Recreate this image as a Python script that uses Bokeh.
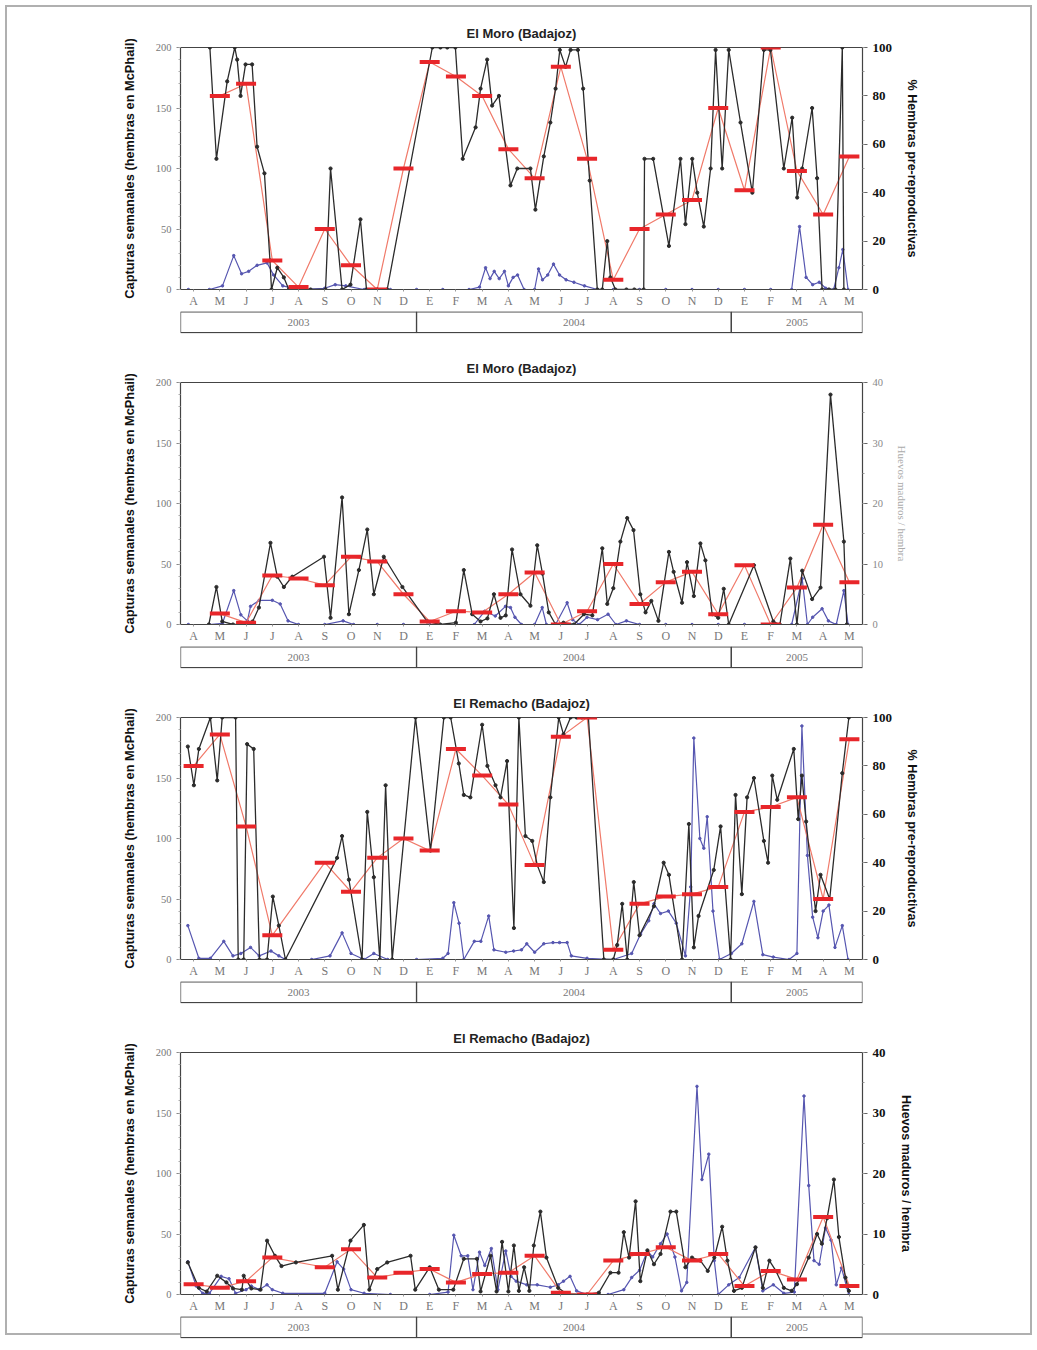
from bokeh.plotting import figure
from bokeh.models import Range1d, LinearAxis, FixedTicker, SingleIntervalTicker
from bokeh.layouts import column
from bokeh.embed import file_html
from bokeh.resources import INLINE
from bokeh.core.properties import value

# ---------------- data ----------------
MONTHS = ["A", "M", "J", "J", "A", "S", "O", "N", "D", "E", "F", "M", "A",
          "M", "J", "J", "A", "S", "O", "N", "D", "E", "F", "M", "A", "M"]
YEARS = ["2003", "2004", "2005"]
YEAR_START = [0, 9, 21]   # month index where each year starts (Apr 2003 = 0)
YEAR_END = [9, 21, 26]

LEFT_LABEL = "Capturas semanales (hembras en McPhail)"

# Panel 1 - El Moro, % hembras pre-reproductivas
p1_black_t = [1.12, 1.37, 1.78, 2.07, 2.16, 2.29, 2.48, 2.73, 2.92, 3.2,
              3.41, 3.47, 3.69, 3.94, 4.13, 4.96, 5.53, 5.72, 6.16, 6.48,
              6.86, 7.09, 7.5, 7.88, 9.6, 9.91, 10.17, 10.48, 10.76, 11.25,
              11.44, 11.69, 11.88, 12.14, 12.58, 12.84, 13.34, 13.53, 13.85, 14.1,
              14.3, 14.46, 14.68, 14.87, 15.15, 15.35, 15.6, 15.89, 16.08, 16.27,
              16.39, 16.58, 17.0, 17.3, 17.66, 17.69, 18.02, 18.62, 19.06, 19.25,
              19.51, 19.7, 19.95, 20.21, 20.4, 20.65, 20.9, 21.35, 21.8, 22.24,
              22.49, 23.0, 23.32, 23.51, 23.7, 24.08, 24.27, 24.46, 24.72, 24.97,
              25.23, 25.29]
p1_black_v = [100, 54, 86, 100, 95, 80, 93, 93, 59, 48,
              12, 0, 9, 5, 0, 0, 0, 50, 0, 2,
              29, 0, 0, 0, 100, 100, 100, 100, 54, 67,
              83, 95, 76, 80, 43, 50, 50, 33, 55, 69,
              83, 99, 92, 99, 99, 83, 45, 0, 0, 20,
              5, 0, 0, 0, 0, 54, 54, 18, 54, 27,
              54, 40, 26, 50, 99, 50, 99, 69, 40, 99,
              99, 50, 71, 38, 50, 75, 46, 0, 0, 0,
              100, 0]
p1_blue_t = [0.3, 1.1, 1.6, 2.03, 2.33, 2.6, 2.92, 3.3, 3.55, 3.9,
             4.5, 5.5, 5.9, 6.3, 7.0, 8.0, 9.0, 10.0, 11.0, 11.4,
             11.63, 11.8, 11.96, 12.15, 12.35, 12.5, 12.68, 12.85, 13.1, 13.5,
             13.65, 13.8, 14.0, 14.22, 14.45, 14.7, 15.0, 15.4, 15.9, 16.5,
             17.5, 18.5, 19.5, 20.5, 21.5, 22.5, 23.3, 23.6, 23.85, 24.1,
             24.35, 24.6, 24.9, 25.1, 25.25, 25.45]
p1_blue_v = [0, 0, 3, 28, 13, 15, 20, 22, 12, 3,
             0, 1, 4, 3, 0, 0, 0, 0, 0, 2,
             18, 9, 15, 9, 15, 3, 10, 12, 0, 0,
             17, 8, 12, 21, 12, 8, 6, 3, 0, 0,
             0, 0, 0, 0, 0, 0, 0, 52, 10, 4,
             6, 1, 0, 18, 33, 0]
p1_red_m = list(range(1, 26))
p1_red_v = [80, 85, 12, 1, 25, 10, 0, 50, 94, 88, 80, 58, 46, 92, 54, 4, 25,
            31, 37, 75, 41, 100, 49, 31, 55]

# Panel 2 - El Moro, huevos maduros / hembra
p2_black_t = [1.08, 1.37, 1.59, 2.0, 2.5, 2.75, 2.99, 3.43, 3.69, 3.94,
              4.26, 5.47, 5.72, 6.16, 6.42, 6.8, 7.12, 7.37, 7.75, 8.46,
              9.4, 9.9, 10.5, 10.8, 11.12, 11.44, 11.7, 11.95, 12.2, 12.4,
              12.64, 12.96, 13.34, 13.6, 13.8, 14.04, 14.3, 14.6, 15.0, 15.38,
              15.7, 16.08, 16.27, 16.5, 16.77, 17.03, 17.27, 17.53, 17.73, 17.95,
              18.22, 18.62, 18.8, 19.12, 19.31, 19.57, 19.82, 20.01, 20.27, 20.5,
              20.71, 20.9, 21.86, 22.6, 22.85, 23.25, 23.5, 23.7, 24.08, 24.4,
              24.78, 25.29, 25.4]
p2_black_v = [0, 6.2, 0.5, 0, 0, 0.5, 2.8, 13.5, 7.9, 6.2,
              7.9, 11.2, 1.1, 21, 1.7, 9, 15.7, 5, 11.2, 6.2,
              0.5, 0, 0.3, 9, 1.7, 0.5, 1, 5, 1.1, 1.5,
              12.4, 5, 3.1, 13.1, 8.4, 2, 0, 0.3, 0, 1.7,
              1.5, 12.6, 3.4, 6, 13.7, 17.6, 15.6, 5, 2, 3.9,
              0.6, 12, 8.7, 3.6, 10.3, 4.7, 13.4, 10.6, 1.7, 1.1,
              5.9, 0, 9.8, 0.5, 0, 10.9, 0, 8.9, 4.2, 6.1,
              38, 13.7, 0]
p2_blue_t = [0.3, 1.1, 1.6, 2.03, 2.3, 2.55, 2.67, 3.0, 3.5, 3.8,
             4.1, 4.5, 5.5, 6.2, 6.6, 7.5, 8.5, 9.5, 10.5, 11.2,
             11.6, 12.0, 12.39, 12.58, 12.75, 13.0, 13.5, 13.79, 13.95, 14.3,
             14.74, 14.95, 15.2, 15.5, 15.9, 16.3, 16.6, 17.0, 17.5, 18.5,
             19.5, 20.5, 21.5, 22.5, 23.3, 23.7, 23.9, 24.1, 24.46, 24.7,
             25.0, 25.29, 25.45]
p2_blue_v = [0, 0, 1, 28, 8, 3, 15, 20, 20, 17,
             3, 0, 0, 3, 0, 0, 0, 0, 0, 0,
             11, 7, 15, 14, 6, 0, 0, 14, 0, 0,
             18, 4, 0, 6, 4, 8.5, 0, 3, 0, 0,
             0, 0, 0, 0, 0, 38, 0, 6, 13, 3,
             0, 28, 0]
p2_red_m = list(range(1, 26))
p2_red_v = [1.8, 0.3, 8.1, 7.6, 6.5, 11.2, 10.4, 5, 0.5, 2.2, 2, 5, 8.6, 0,
            2.2, 10, 3.4, 7, 8.7, 1.7, 9.8, 0, 6.1, 16.5, 7]

# Panel 3 - El Remacho, % hembras pre-reproductivas
p3_black_t = [0.28, 0.51, 0.7, 1.14, 1.4, 1.59, 2.1, 2.2, 2.41, 2.54,
              2.79, 3.01, 3.3, 3.52, 3.75, 4.0, 5.97, 6.16, 6.42, 6.92,
              7.12, 7.37, 7.6, 7.82, 8.07, 8.96, 9.53, 10.04, 10.3, 10.61,
              10.8, 11.05, 11.5, 11.7, 12.01, 12.2, 12.45, 12.71, 12.9, 13.15,
              13.41, 13.6, 13.85, 14.1, 14.42, 14.6, 14.87, 15.1, 15.3, 15.55,
              16.14, 16.5, 16.65, 16.84, 17.03, 17.28, 17.5, 18.05, 18.42, 18.62,
              19.12, 19.38, 19.57, 19.75, 20.33, 20.59, 20.97, 21.16, 21.4, 21.6,
              21.86, 22.24, 22.4, 22.56, 22.75, 23.38, 23.55, 23.69, 23.85, 24.21,
              24.4, 24.75, 25.23, 25.48]
p3_black_v = [88, 72, 87, 100, 74, 100, 100, 0, 0, 89,
              87, 0, 0, 26, 14, 0, 42, 51, 33, 0,
              61, 34, 0, 72, 0, 100, 45, 100, 100, 81,
              68, 67, 97, 80, 72, 67, 82, 13, 100, 51,
              49, 39, 32, 67, 100, 93, 100, 100, 100, 100,
              0, 0, 6, 23, 0, 32, 10, 22, 40, 35,
              0, 56, 5, 18, 37, 55, 0, 68, 27, 67,
              75, 49, 40, 76, 66, 87, 58, 76, 57, 20,
              35, 25, 77, 100]
p3_blue_t = [0.28, 0.7, 1.14, 1.65, 2.0, 2.3, 2.67, 3.0, 3.45, 3.75,
             4.0, 5.0, 5.7, 6.16, 6.5, 7.0, 7.37, 7.9, 9.0, 10.0,
             10.2, 10.42, 10.62, 10.8, 11.2, 11.45, 11.75, 11.95, 12.4, 12.7,
             13.0, 13.2, 13.5, 13.85, 14.2, 14.45, 14.74, 14.9, 15.5, 16.5,
             17.2, 17.54, 17.85, 18.05, 18.3, 18.6, 18.9, 19.25, 19.45, 19.57,
             19.8, 19.95, 20.08, 20.3, 20.55, 21.0, 21.4, 21.86, 22.2, 22.6,
             23.2, 23.5, 23.69, 23.9, 24.1, 24.3, 24.5, 24.72, 24.95, 25.23,
             25.45]
p3_blue_v = [28, 1, 1, 15, 3, 5, 10, 3, 7, 3,
             0, 0, 3, 22, 5, 0, 5, 0, 0, 1,
             5, 47, 30, 0, 15, 15, 36, 8, 6, 7,
             8, 13, 6, 13, 14, 14, 14, 3, 1, 0,
             5, 21, 32, 46, 38, 40, 30, 3, 60, 183,
             100, 92, 118, 40, 0, 5, 13, 48, 4, 2,
             0, 5, 193, 86, 35, 18, 40, 45, 10, 28,
             0]
p3_red_m = [0, 1, 2, 3, 5, 6, 7, 8, 9, 10, 11, 12, 13, 14, 15, 16, 17, 18,
            19, 20, 21, 22, 23, 24, 25]
p3_red_v = [80, 93, 55, 10, 40, 28, 42, 50, 45, 87, 76, 64, 39, 92, 100, 4,
            23, 26, 27, 30, 61, 63, 67, 25, 91]

# Panel 4 - El Remacho, huevos maduros / hembra
p4_black_t = [0.28, 0.7, 1.0, 1.4, 1.75, 2.0, 2.34, 2.41, 2.7, 3.05,
              3.3, 3.6, 3.85, 4.4, 5.78, 6.0, 6.48, 6.99, 7.2, 7.5,
              7.88, 8.77, 8.95, 9.5, 9.85, 10.4, 10.8, 11.3, 11.44, 11.82,
              12.05, 12.26, 12.5, 12.71, 12.9, 13.1, 13.3, 13.47, 13.72, 13.95,
              14.4, 14.75, 15.5, 15.95, 16.39, 16.7, 16.9, 17.1, 17.35, 17.53,
              17.8, 18.05, 18.3, 18.68, 18.9, 19.25, 19.5, 19.82, 20.1, 20.35,
              20.65, 20.85, 21.1, 21.4, 21.92, 22.2, 22.45, 22.7, 23.0, 23.3,
              23.5, 23.95, 24.27, 24.45, 24.65, 24.91, 25.1, 25.35, 25.48]
p4_black_v = [5.3, 1.1, 0.5, 3.1, 2, 1, 0.8, 3.1, 1, 0.8,
              8.9, 6.4, 4.7, 5.3, 6.4, 0.8, 8.9, 11.5, 0.8, 4.2,
              5.3, 6.4, 0.8, 4.5, 0.8, 0.8, 5.9, 5.9, 0.5, 6.4,
              0.5, 8.7, 0.5, 8.1, 0.6, 4.5, 0.6, 8.1, 13.7, 6.1,
              1.1, 0, 0, 0.3, 3.6, 3.6, 10.3, 6.1, 15.4, 2.2,
              7.3, 5, 6.7, 13.7, 13.7, 4.5, 6.1, 5.6, 3.9, 6.1,
              11.2, 5.6, 0.6, 1.1, 7.8, 1.1, 5.6, 3.9, 1.1, 0.6,
              1.7, 6.1, 10, 8.4, 12.6, 19, 9.5, 2.8, 0.6]
p4_blue_t = [0.28, 0.6, 0.85, 1.1, 1.55, 1.85, 2.1, 2.5, 2.7, 3.0,
             3.3, 3.5, 3.9, 5.5, 5.97, 6.22, 6.5, 7.0, 8.0, 9.5,
             10.2, 10.42, 10.7, 10.95, 11.15, 11.4, 11.6, 11.85, 12.1, 12.4,
             12.6, 12.8, 13.2, 13.6, 14.1, 14.4, 14.6, 14.85, 15.1, 15.5,
             16.3, 16.9, 17.2, 17.5, 17.8, 18.0, 18.3, 18.55, 18.85, 19.1,
             19.3, 19.69, 19.88, 20.14, 20.35, 20.5, 20.9, 21.3, 21.92, 22.2,
             22.6, 23.0, 23.4, 23.77, 23.95, 24.15, 24.35, 24.59, 24.8, 25.0,
             25.2, 25.4, 25.48]
p4_blue_v = [27, 7, 1, 1, 15, 13, 1, 4, 7, 4,
             8, 4, 1, 1, 27, 21, 4, 1, 0, 0,
             2, 49, 32, 32, 4, 35, 24, 38, 4, 36,
             15, 11, 8, 8, 6, 8, 11, 15, 3, 0,
             0, 4, 14, 20, 36, 31, 42, 50, 31, 3,
             10, 172, 95, 116, 28, 0, 8, 14, 39, 3,
             8, 1, 2, 164, 90, 28, 25, 55, 45, 8,
             22, 6, 0]
p4_red_m = [0, 1, 2, 3, 5, 6, 7, 8, 9, 10, 11, 12, 13, 14, 15, 16, 17, 18,
            19, 20, 21, 22, 23, 24, 25]
p4_red_v = [1.7, 1.1, 2.2, 6.1, 4.5, 7.5, 2.8, 3.6, 4.2, 2, 3.4, 3.6, 6.4,
            0.3, 0, 5.6, 6.7, 7.8, 5.6, 6.7, 1.4, 3.9, 2.5, 12.8, 1.4]

# ---------------- styling ----------------
SERIF = "Liberation Serif"
SANS = "Liberation Sans"
BLACK = "#2b2b2b"
BLUE = "#5656b0"
RED = "#e8262a"
RED_LINE = "#f07a6a"


def make_panel(title, bt, bv, ct, cv, rm, rv, rmax, rstep, rlabel, strong):
    xr = Range1d(0, 26)
    p = figure(width=1037, height=311, x_range=xr, y_range=Range1d(0, 200),
               output_backend="svg", toolbar_location=None,
               min_border_left=180, min_border_right=175,
               min_border_top=47, min_border_bottom=22)
    p.extra_y_ranges = {"r": Range1d(0, rmax)}
    p.title.text = title
    p.title.align = "center"
    p.title.text_font = SANS
    p.title.text_font_size = "13px"
    p.title.text_font_style = "bold"
    p.title.text_color = "#222"
    p.title.standoff = 14
    p.xgrid.visible = False
    p.ygrid.visible = False
    p.outline_line_color = "#444"
    p.outline_line_width = 1.2
    p.background_fill_color = "white"
    p.border_fill_alpha = 0

    # month axis
    xa = p.xaxis[0]
    xa.ticker = FixedTicker(ticks=[i + 0.5 for i in range(len(MONTHS))])
    xa.major_label_overrides = {i + 0.5: m for i, m in enumerate(MONTHS)}
    xa.major_tick_in = 0
    xa.major_tick_out = 2
    xa.major_tick_line_color = "#999"
    xa.axis_line_color = "#444"
    xa.major_label_text_font = SERIF
    xa.major_label_text_font_size = "12px"
    xa.major_label_text_color = "#777"
    xa.major_label_standoff = 2

    # left axis: captures
    ya = p.yaxis[0]
    ya.ticker = SingleIntervalTicker(interval=50, num_minor_ticks=5)
    ya.major_label_text_font = SERIF
    ya.major_label_text_font_size = "10.5px"
    ya.major_label_text_color = "#777"
    ya.major_tick_in = 0
    ya.major_tick_out = 4
    ya.minor_tick_in = 0
    ya.minor_tick_out = 2
    ya.major_tick_line_color = "#888"
    ya.minor_tick_line_color = "#aaa"
    ya.axis_line_color = "#444"
    ya.axis_label = LEFT_LABEL
    ya.axis_label_text_font = SANS
    ya.axis_label_text_font_style = "bold"
    ya.axis_label_text_font_size = "12.8px"
    ya.axis_label_text_color = "#111"
    ya.axis_label_standoff = 16

    # right axis
    ra = LinearAxis(y_range_name="r",
                    ticker=SingleIntervalTicker(interval=rstep, num_minor_ticks=2))
    ra.major_tick_in = 0
    ra.major_tick_out = 5
    ra.minor_tick_in = 0
    ra.minor_tick_out = 2
    ra.axis_line_color = "#444"
    ra.major_tick_line_color = "#666"
    ra.minor_tick_line_color = "#999"
    ra.major_label_text_font = SERIF
    ra.axis_label = rlabel
    ra.axis_label_standoff = 10
    if strong:
        ra.major_label_text_font_size = "13px"
        ra.major_label_text_font_style = "bold"
        ra.major_label_text_color = "#111"
        ra.axis_label_text_font = SANS
        ra.axis_label_text_font_style = "bold"
        ra.axis_label_text_font_size = "12.5px"
        ra.axis_label_text_color = "#111"
    else:
        ra.major_label_text_font_size = "10.5px"
        ra.major_label_text_color = "#888"
        ra.axis_label_text_font = SERIF
        ra.axis_label_text_font_style = "normal"
        ra.axis_label_text_font_size = "11px"
        ra.axis_label_text_color = "#aaa"
    p.add_layout(ra, "right")

    # blue: weekly captures (left axis)
    p.line(ct, cv, line_color=BLUE, line_width=1.2)
    p.scatter(ct, cv, size=2.5, color=BLUE)
    # red: monthly mean (right axis)
    rx = [m + 0.5 for m in rm]
    p.line(rx, rv, line_color=RED_LINE, line_width=1.2, y_range_name="r")
    # black: weekly values (right axis)
    p.line(bt, bv, line_color=BLACK, line_width=1.3, y_range_name="r")
    p.scatter(bt, bv, size=3.2, color=BLACK, y_range_name="r")
    p.scatter(rx, rv, marker="dash", size=20, line_width=4, line_color=RED,
              y_range_name="r")

    # year bar
    yb = figure(width=1037, height=24, x_range=xr, y_range=Range1d(-0.04, 1.0),
                output_backend="svg", toolbar_location=None,
                min_border_left=180, min_border_right=175,
                min_border_top=0, min_border_bottom=2)
    yb.axis.visible = False
    yb.grid.visible = False
    yb.outline_line_color = None
    yb.border_fill_alpha = 0
    yb.quad(left=YEAR_START, right=YEAR_END, bottom=0, top=0.98,
            fill_color="white", line_color="#444", line_width=1.3)
    yb.text(x=[(s + e) / 2 for s, e in zip(YEAR_START, YEAR_END)],
            y=[0.5] * len(YEARS), text=YEARS, text_align="center",
            text_baseline="middle", text_font=value(SERIF),
            text_font_size="11px", text_color="#777")
    return [p, yb]


panels = []
panels += make_panel("El Moro (Badajoz)", p1_black_t, p1_black_v, p1_blue_t, p1_blue_v,
                     p1_red_m, p1_red_v, 100, 20, "% Hembras pre-reproductivas", True)
panels += make_panel("El Moro (Badajoz)", p2_black_t, p2_black_v, p2_blue_t, p2_blue_v,
                     p2_red_m, p2_red_v, 40, 10, "Huevos maduros / hembra", False)
panels += make_panel("El Remacho (Badajoz)", p3_black_t, p3_black_v, p3_blue_t, p3_blue_v,
                     p3_red_m, p3_red_v, 100, 20, "% Hembras pre-reproductivas", True)
panels += make_panel("El Remacho (Badajoz)", p4_black_t, p4_black_v, p4_blue_t, p4_blue_v,
                     p4_red_m, p4_red_v, 40, 10, "Huevos maduros / hembra", True)

layout = column(*panels, spacing=0,
                styles={"outline": "2px solid #b0b0b0", "outline-offset": "-7px"})
open("out.html", "w").write(file_html(layout, INLINE))
